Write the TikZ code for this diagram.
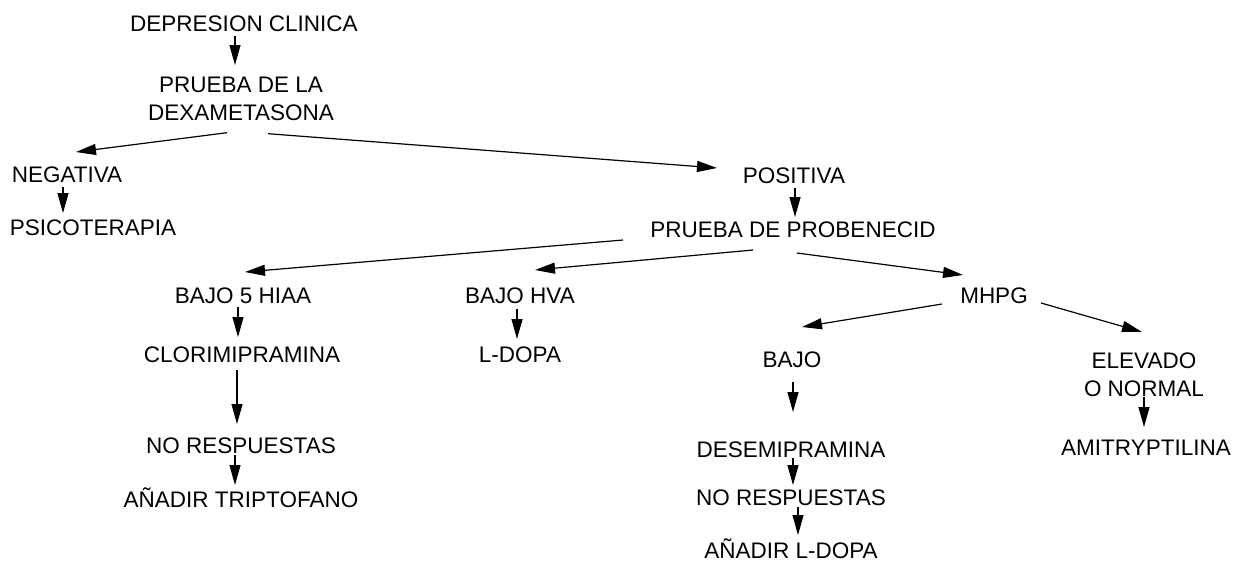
\documentclass[tikz,border=0pt]{standalone}
\usepackage{fontspec}
\setmainfont{Liberation Sans}
\usetikzlibrary{arrows.meta}
\begin{document}
\begin{tikzpicture}[x=1pt,y=-1pt,
  lbl/.style={inner sep=0pt,outer sep=0pt,anchor=base,font=\fontsize{22.5}{28}\selectfont},
  lbl2/.style={inner sep=0pt,outer sep=0pt,anchor=north,align=center,font=\fontsize{22.5}{28}\selectfont},
  arr/.style={line width=1.2pt,-{Triangle[length=20pt,width=11pt]}}]
\path[use as bounding box,fill=white] (0,0) rectangle (1235,579);
% nodes
\node[lbl] (dep) at (244,31) {DEPRESION CLINICA};
\node[lbl2] (dex) at (241,77.5) {PRUEBA DE LA\\DEXAMETASONA};
\node[lbl] (neg) at (67,182) {NEGATIVA};
\node[lbl] (psi) at (93,235) {PSICOTERAPIA};
\node[lbl] (pos) at (794,183) {POSITIVA};
\node[lbl] (prob) at (793,237) {PRUEBA DE PROBENECID};
\node[lbl] (b5) at (243,303) {BAJO 5 HIAA};
\node[lbl] (hva) at (520,303) {BAJO HVA};
\node[lbl] (mhpg) at (994,303) {MHPG};
\node[lbl] (clor) at (242,362) {CLORIMIPRAMINA};
\node[lbl] (ldopa) at (520,362) {L-DOPA};
\node[lbl] (bajo) at (792,367) {BAJO};
\node[lbl2] (elev) at (1144,352.5) {ELEVADO\\O NORMAL};
\node[lbl] (nor1) at (241,453) {NO RESPUESTAS};
\node[lbl] (tri) at (241,507) {AÑADIR TRIPTOFANO};
\node[lbl] (des) at (791,457) {DESEMIPRAMINA};
\node[lbl] (nor2) at (791,505) {NO RESPUESTAS};
\node[lbl] (aldopa) at (791,558) {AÑADIR L-DOPA};
\node[lbl] (ami) at (1146,455) {AMITRYPTILINA};
% connectors
\draw[arr] ([xshift=-9pt,yshift=-5pt]dep.base) -- ([xshift=-6pt,yshift=12.5pt]dex.north);
\draw[arr] ([xshift=-14pt,yshift=-11.5pt]dex.south) -- ([xshift=9pt,yshift=30pt]neg.base);
\draw[arr] ([xshift=27pt,yshift=-12.5pt]dex.south) -- ([xshift=-77pt,yshift=15pt]pos.base);
\draw[arr] ([xshift=-4pt,yshift=-5pt]neg.base) -- ([xshift=-30pt,yshift=22pt]psi.base);
\draw[arr] ([xshift=1pt,yshift=-5pt]pos.base) -- ([xshift=2pt,yshift=20pt]prob.base);
\draw[arr] ([xshift=-170pt,yshift=-3pt]prob.base) -- ([xshift=2pt,yshift=31pt]b5.base);
\draw[arr] ([xshift=-40pt,yshift=-13pt]prob.base) -- ([xshift=15pt,yshift=33pt]hva.base);
\draw[arr] ([xshift=4pt,yshift=-16pt]prob.base) -- ([xshift=-31pt,yshift=28pt]mhpg.base);
\draw[arr] ([xshift=-52pt,yshift=-1pt]mhpg.base) -- ([xshift=10pt,yshift=40pt]bajo.base);
\draw[arr] ([xshift=47pt,yshift=0pt]mhpg.base) -- ([xshift=-2pt,yshift=20.5pt]elev.north);
\draw[arr] ([xshift=-5pt,yshift=-4pt]b5.base) -- ([xshift=-4pt,yshift=25pt]clor.base);
\draw[arr] ([xshift=-5pt,yshift=-8pt]clor.base) -- ([xshift=-4pt,yshift=29pt]nor1.base);
\draw[arr] ([xshift=-6pt,yshift=-2pt]nor1.base) -- ([xshift=-6pt,yshift=22pt]tri.base);
\draw[arr] ([xshift=-3pt,yshift=-6pt]hva.base) -- ([xshift=-3pt,yshift=23pt]ldopa.base);
\draw[arr] ([xshift=1pt,yshift=-15pt]bajo.base) -- ([xshift=2pt,yshift=45pt]des.base);
\draw[arr] ([xshift=2pt,yshift=-1pt]des.base) -- ([xshift=2pt,yshift=20pt]nor2.base);
\draw[arr] ([xshift=7pt,yshift=-2pt]nor2.base) -- ([xshift=7pt,yshift=23pt]aldopa.base);
\draw[arr] ([xshift=0pt,yshift=-0.5pt]elev.south) -- ([xshift=-2pt,yshift=28pt]ami.base);
\end{tikzpicture}
\end{document}
